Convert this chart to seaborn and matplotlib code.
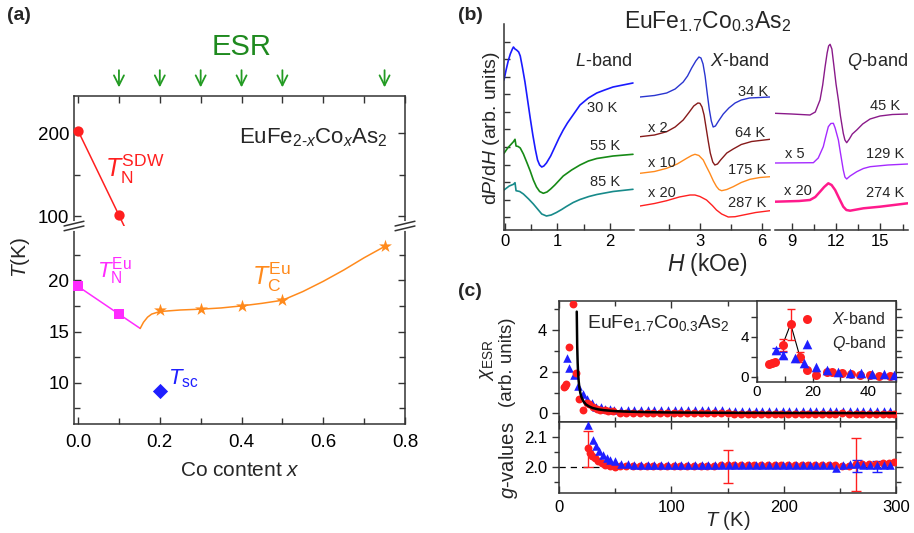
import matplotlib
matplotlib.use("Agg")
import matplotlib.pyplot as plt
from matplotlib.ticker import MultipleLocator, FixedLocator
import seaborn as sns

# ---------------- (a) phase diagram of EuFe2-xCoxAs2 ----------------
x_sdw = [0.0, 0.1]
t_sdw = [203, 101]
x_sdw_line = [0.0, 0.1, 0.122]
t_sdw_line = [203, 101, 78.5]

x_neu = [0.0, 0.1]
t_neu = [19.4, 16.7]
x_neu_line = [0.0, 0.1, 0.152]
t_neu_line = [19.4, 16.7, 15.3]

x_ceu = [0.2, 0.3, 0.4, 0.5, 0.75]
t_ceu = [17.07, 17.15, 17.53, 18.05, 23.3]
x_ceu_line = [0.152, 0.16, 0.17, 0.18, 0.2, 0.25, 0.3, 0.35, 0.4, 0.45,
              0.5, 0.55, 0.6, 0.65, 0.7, 0.75]
t_ceu_line = [15.3, 15.9, 16.4, 16.7, 16.95, 17.1, 17.18, 17.3, 17.5, 17.75,
              18.05, 18.9, 19.9, 21.0, 22.2, 23.3]

x_sc = [0.2]
t_sc = [9.2]

x_esr = [0.1, 0.2, 0.3, 0.4, 0.5, 0.75]

# ---------------- (b) ESR spectra, dP/dH (arb. units) ----------------
l30_h = [-0.02, 0.02, 0.06, 0.10, 0.14, 0.16, 0.19, 0.22, 0.26, 0.29, 0.33,
         0.38, 0.43, 0.48, 0.53, 0.58, 0.62, 0.66, 0.70, 0.74, 0.79, 0.87,
         0.95, 1.03, 1.11, 1.19, 1.27, 1.35, 1.43, 1.59, 1.75, 1.90, 2.06,
         2.25, 2.44]
l30_y = [15.0, 16.0, 16.9, 17.6, 18.1, 18.3, 18.1, 18.0, 17.8, 17.4, 16.3,
         14.8, 13.0, 11.2, 9.5, 8.0, 7.0, 6.5, 6.3, 6.4, 6.7, 7.4,
         8.3, 9.2, 10.0, 10.7, 11.3, 11.9, 12.5, 13.2, 13.7, 14.0, 14.3,
         14.5, 14.7]
l55_h = [-0.02, 0.05, 0.12, 0.16, 0.19, 0.21, 0.25, 0.29, 0.35, 0.42, 0.48,
         0.54, 0.60, 0.66, 0.73, 0.80, 0.87, 0.95, 1.11, 1.27, 1.43, 1.59,
         1.75, 2.06, 2.44]
l55_y = [7.67, 8.2, 8.6, 8.83, 9.07, 8.4, 8.35, 8.2, 7.6, 6.7, 5.9,
         5.0, 4.3, 3.85, 3.67, 3.8, 4.1, 4.5, 5.4, 6.0, 6.5, 6.9,
         7.15, 7.4, 7.57]
l85_h = [-0.02, 0.08, 0.16, 0.19, 0.21, 0.28, 0.35, 0.45, 0.54, 0.62, 0.70,
         0.79, 0.88, 0.98, 1.08, 1.17, 1.30, 1.43, 1.60, 1.75, 2.06, 2.44]
l85_y = [4.0, 4.4, 4.57, 4.73, 3.93, 3.85, 3.6, 3.1, 2.6, 2.1, 1.6,
         1.4, 1.5, 1.75, 2.05, 2.35, 2.75, 3.05, 3.35, 3.55, 3.85, 4.07]

x34_h = [0.10, 0.8, 1.39, 1.8, 2.19, 2.4, 2.6, 2.8, 2.95, 3.05, 3.15, 3.25,
         3.35, 3.45, 3.55, 3.64, 3.75, 3.9, 4.13, 4.4, 4.7, 5.0, 5.4, 6.39]
x34_y = [13.3, 13.45, 13.7, 14.1, 14.8, 15.4, 16.2, 16.9, 17.3, 17.2, 16.6,
         15.4, 13.7, 12.1, 10.9, 10.3, 10.4, 10.9, 11.6, 12.2, 12.7, 13.0,
         13.2, 13.3]
x64_h = [0.10, 0.8, 1.39, 1.8, 2.19, 2.45, 2.7, 2.9, 3.0, 3.1, 3.2, 3.3,
         3.4, 3.5, 3.62, 3.72, 3.85, 4.0, 4.3, 4.61, 5.0, 5.5, 6.39]
x64_y = [9.33, 9.5, 9.83, 10.3, 11.0, 11.7, 12.4, 12.7, 12.67, 12.3, 11.5,
         10.2, 8.9, 7.7, 6.8, 6.5, 6.6, 7.0, 7.7, 8.1, 8.55, 8.85, 9.07]
x175_h = [0.10, 0.8, 1.39, 1.9, 2.36, 2.6, 2.76, 2.95, 3.16, 3.3, 3.48, 3.65,
          3.80, 3.92, 4.05, 4.3, 4.61, 5.0, 5.42, 5.9, 6.39]
x175_y = [5.67, 5.85, 6.17, 6.6, 7.17, 7.45, 7.57, 7.45, 7.0, 6.4, 5.67, 4.9,
          4.35, 4.05, 3.93, 4.05, 4.33, 4.75, 5.07, 5.25, 5.33]
x287_h = [0.10, 0.8, 1.39, 2.0, 2.52, 2.76, 3.0, 3.32, 3.6, 3.80, 4.05, 4.37,
          4.7, 5.10, 5.7, 6.39]
x287_y = [2.4, 2.65, 2.93, 3.3, 3.5, 3.5, 3.35, 3.0, 2.45, 2.0, 1.6, 1.3,
          1.33, 1.5, 1.75, 1.93]

q45_h = [7.88, 9.0, 10.24, 10.6, 10.92, 11.1, 11.26, 11.4, 11.5, 11.6, 11.72,
         11.85, 12.0, 12.16, 12.3, 12.49, 12.6, 12.72, 12.9, 13.1, 13.4, 13.8,
         14.3, 14.97, 15.8, 16.84]
q45_y = [11.67, 11.6, 11.5, 11.8, 13.0, 14.5, 16.3, 17.7, 18.4, 18.57, 18.1,
         16.5, 14.6, 13.0, 11.4, 9.67, 9.0, 8.73, 9.1, 9.6, 10.0, 10.6,
         11.1, 11.4, 11.55, 11.6]
q129_h = [7.88, 10.47, 10.8, 11.14, 11.3, 11.48, 11.65, 11.82, 11.94, 12.05,
          12.16, 12.3, 12.49, 12.6, 12.72, 12.95, 13.4, 13.85, 14.3, 15.5, 16.84]
q129_y = [6.7, 6.73, 7.2, 8.33, 9.3, 10.33, 10.65, 10.67, 10.2, 9.6,
          9.0, 7.7, 6.0, 5.3, 5.1, 5.4, 5.83, 6.15, 6.33, 6.5, 6.6]
q274_h = [7.88, 9.5, 10.24, 10.6, 10.92, 11.2, 11.48, 11.7, 11.94, 12.2, 12.49,
          12.7, 12.95, 13.4, 13.85, 14.97, 16.84]
q274_y = [2.83, 2.9, 3.0, 3.3, 3.83, 4.3, 4.67, 4.5, 4.0, 3.2, 2.33,
          2.0, 1.93, 2.05, 2.17, 2.33, 2.67]

# ---------------- (c) ESR intensity and g-values ----------------
xb_t = [4.2, 5.4, 6.3, 9.2, 12.1, 15.5, 18.1, 21.1, 25.0, 27.0, 30.4, 33.7,
        36.9, 40.8, 44.0, 48.0,
        54, 60, 66, 72, 78, 84, 90, 96, 102, 108, 114, 120, 126, 132, 138,
        144, 150, 156, 162, 168, 174, 180, 186, 192, 198, 204, 210, 216, 222,
        228, 234, 240, 246, 252, 258, 264, 270, 276, 282, 288, 294, 298]
xb_chi = [1.27, 1.33, 1.43, 3.17, 5.27, 1.93, 0.67, 0.17, 0.50, 0.43, 0.33,
          0.23, 0.17, 0.17, 0.10, 0.10,
          0.04, 0.03, 0.03, 0.02, 0.02, 0.02, 0.01, 0.01, 0.01, 0.01, 0.0,
          0.0, 0.0, 0.0, 0.0, 0.0, 0.0, -0.01, -0.01, -0.01, -0.01, -0.01,
          -0.01, -0.02, -0.02, -0.02, -0.02, -0.02, -0.02, -0.02, -0.02,
          -0.03, -0.02, 0.0, -0.02, -0.02, -0.02, -0.02, -0.02, -0.02,
          -0.02, -0.01]
qb_t = [6.8, 9.2, 13.5, 17.0, 21.1, 25.0, 29.2, 33.3, 37.3, 41.3, 45.6, 49.4,
        55, 61, 67, 73, 79, 85, 91, 97, 103, 109, 115, 121, 127, 133, 139,
        145, 151, 157, 163, 169, 175, 181, 187, 193, 199, 205, 211, 217, 223,
        229, 235, 241, 247, 253, 259, 265, 271, 277, 283, 289, 295]
qb_chi = [2.67, 2.17, 1.83, 1.33, 0.93, 0.67, 0.50, 0.33, 0.33, 0.23, 0.23,
          0.17,
          0.18, 0.18, 0.17, 0.17, 0.17, 0.16, 0.16, 0.16, 0.16, 0.15, 0.15,
          0.15, 0.15, 0.15, 0.15, 0.15, 0.14, 0.14, 0.14, 0.14, 0.14, 0.14,
          0.14, 0.14, 0.14, 0.14, 0.14, 0.13, 0.13, 0.13, 0.13, 0.13, 0.13,
          0.13, 0.13, 0.13, 0.13, 0.12, 0.12, 0.12, 0.12]

# Curie-Weiss fit curve as drawn
fit_t = [15.8, 16.2, 16.6, 17.0, 17.5, 18, 19, 20, 22, 24, 27, 30, 35, 40,
         50, 60, 80, 100, 150, 200, 250, 300]
fit_chi = [4.88, 3.25, 2.44, 1.95, 1.56, 1.30, 0.98, 0.78, 0.56, 0.43, 0.33,
           0.26, 0.195, 0.156, 0.111, 0.087, 0.060, 0.046, 0.029, 0.021,
           0.017, 0.014]

xb_err_t = [9.2, 12.1, 15.5]
xb_err_chi = [3.17, 5.27, 1.93]
xb_err = [0.6, 1.55, 0.5]
qb_err_t = [6.8, 9.2]
qb_err_chi = [2.67, 2.17]
qb_err = [0.25, 0.3]

xb_g_t = [25.6, 27.7, 29.8, 32.0, 35.0, 38.0, 41.0, 45.5, 50.0,
          54, 60, 66, 72, 78, 84, 90, 96, 102, 108, 114, 120, 126, 132, 138,
          144, 150, 156, 162, 168, 174, 180, 186, 192, 198, 204, 210, 216, 222,
          228, 234, 240, 246, 252, 258, 264, 270, 276, 282, 288, 294, 298]
xb_g = [2.064, 2.047, 2.036, 2.029, 2.020, 2.014, 2.009, 2.005, 2.002,
        2.003, 2.003, 2.003, 2.004, 2.004, 2.004, 2.004, 2.004, 2.005, 2.005,
        2.005, 2.005, 2.005, 2.005, 2.005, 2.006, 2.006, 2.006, 2.006, 2.007,
        2.007, 2.007, 2.007, 2.007, 2.008, 2.008, 2.008, 2.008, 2.008, 2.009,
        2.009, 2.009, 2.009, 2.003, 2.005, 2.010, 2.010, 2.011, 2.012, 2.013,
        2.015, 2.016]
qb_g_t = [25.6, 30.0, 33.0, 36.0, 39.6, 42.6, 45.5, 50.0,
          55, 61, 67, 73, 79, 85, 91, 97, 103, 109, 115, 121, 127, 133, 139,
          145, 151, 157, 163, 169, 175, 181, 187, 193, 199, 205, 211, 217, 223,
          229, 235, 241, 247, 253, 259, 265, 271, 277, 283, 289, 295]
qb_g = [2.141, 2.091, 2.069, 2.053, 2.040, 2.031, 2.025, 2.020,
        2.012, 2.010, 2.009, 2.009, 2.008, 2.008, 2.008, 2.008, 2.008, 2.008,
        2.007, 2.007, 2.007, 2.007, 2.007, 2.007, 2.007, 2.007, 2.007, 2.007,
        2.007, 2.007, 2.007, 2.007, 2.007, 2.008, 2.008, 2.008, 2.008, 2.008,
        2.008, 2.008, 1.996, 2.008, 2.010, 2.012, 2.008, 2.006, 2.008, 2.006,
        2.008]
xb_gerr_t = [25.6, 150, 264]
xb_gerr_g = [2.06, 2.003, 2.01]
xb_gerr = [0.06, 0.055, 0.087]
qb_gerr_t = [265, 283]
qb_gerr_g = [2.005, 2.002]
qb_gerr = [0.02, 0.018]

RED = "#ff1f1f"
BLUE = "#1f1fff"
MAGENTA = "#ff2bff"
ORANGE = "#ff8a1c"
GREEN = "#239b23"
SPINE = "#333333"

sns.set_theme(style="ticks")
plt.rcParams["font.family"] = ["Liberation Sans", "DejaVu Sans"]
plt.rcParams["mathtext.fontset"] = "custom"
plt.rcParams["mathtext.rm"] = "Liberation Sans"
plt.rcParams["mathtext.it"] = "Liberation Sans:italic"
plt.rcParams["mathtext.bf"] = "Liberation Sans:bold"
plt.rcParams["axes.edgecolor"] = SPINE
plt.rcParams["axes.linewidth"] = 1.1
plt.rcParams["xtick.color"] = SPINE
plt.rcParams["ytick.color"] = SPINE
plt.rcParams["xtick.labelcolor"] = "black"
plt.rcParams["ytick.labelcolor"] = "black"

W, H = 914, 533
fig = plt.figure(figsize=(W / 100, H / 100), dpi=100)


def box(left, top, right, bottom):
    return [left / W, 1 - bottom / H, (right - left) / W, (bottom - top) / H]


def ftext(px, py, s, **kw):
    fig.text(px / W, 1 - py / H, s, **kw)


def line(ax, x, y, **kw):
    sns.lineplot(x=x, y=y, ax=ax, estimator=None, sort=False, **kw)


def dots(ax, x, y, **kw):
    kw.setdefault("linewidth", 0)
    sns.scatterplot(x=x, y=y, ax=ax, **kw)


# ======================= panel (a) =======================
ax_hi = fig.add_axes(box(74, 96, 405, 226))
ax_lo = fig.add_axes(box(74, 226, 405, 424))

line(ax_hi, x_sdw_line, t_sdw_line, color=RED, lw=1.1, clip_on=False)
dots(ax_hi, x_sdw, t_sdw, color=RED, s=55, marker="o", zorder=5, clip_on=False)
line(ax_lo, x_neu_line, t_neu_line, color=MAGENTA, lw=1.1)
dots(ax_lo, x_neu, t_neu, color=MAGENTA, s=48, marker="s", zorder=5, clip_on=False)
line(ax_lo, x_ceu_line, t_ceu_line, color=ORANGE, lw=1.1)
dots(ax_lo, x_ceu, t_ceu, color=ORANGE, s=95, marker="*", zorder=5)
dots(ax_lo, x_sc, t_sc, color=BLUE, s=60, marker="D", zorder=5)

for ax in (ax_hi, ax_lo):
    ax.set_xlim(-0.01, 0.8)
    ax.xaxis.set_major_locator(MultipleLocator(0.2))
    ax.xaxis.set_minor_locator(MultipleLocator(0.1))
    ax.tick_params(which="both", direction="in", top=True, right=True,
                   labelsize=13.5, length=5, width=1)
    ax.tick_params(which="minor", length=4)
    ax.set_xlabel("")
    ax.set_ylabel("")

ax_hi.set_ylim(88, 245)
ax_hi.yaxis.set_major_locator(FixedLocator([100, 200]))
ax_hi.yaxis.set_minor_locator(FixedLocator([150]))
ax_hi.tick_params(axis="x", which="both", labelbottom=False, bottom=False)
ax_hi.spines["bottom"].set_visible(False)
ax_hi.xaxis.set_major_locator(MultipleLocator(0.1))

ax_lo.set_ylim(5.97, 25.3)
ax_lo.yaxis.set_major_locator(FixedLocator([10, 15, 20]))
ax_lo.yaxis.set_minor_locator(FixedLocator([7.5, 12.5, 17.5, 22.5]))
ax_lo.tick_params(axis="x", which="both", top=False)
ax_lo.spines["top"].set_visible(False)
ax_lo.xaxis.set_major_formatter(plt.FormatStrFormatter("%.1f"))
ax_lo.tick_params(axis="x", pad=7)

# axis break marks
for xb in (0.0, 1.0):
    ax_lo.plot([xb, xb], [0.985, 1.015], transform=ax_lo.transAxes,
               color="white", lw=3, clip_on=False, zorder=4)
    for dy in (-0.012, 0.012):
        ax_lo.plot([xb - 0.03, xb + 0.03], [1.0 + dy - 0.012, 1.0 + dy + 0.012],
                   transform=ax_lo.transAxes, color=SPINE, lw=1.1,
                   clip_on=False, zorder=5)

for xa in x_esr:
    ax_hi.annotate("", xy=(xa, 1.045), xytext=(xa, 1.22),
                   xycoords=("data", "axes fraction"),
                   textcoords=("data", "axes fraction"),
                   arrowprops=dict(arrowstyle="->", color=GREEN, lw=1.3,
                                   mutation_scale=18), annotation_clip=False)
ax_hi.text(0.4, 1.377, "ESR", transform=ax_hi.get_xaxis_transform(),
           color="#1f8a1f", fontsize=21, ha="center", va="center")

ax_hi.text(0.758, 195, r"EuFe$_{2\text{-}x}$Co$_x$As$_2$", fontsize=16,
           ha="right", va="center")
ax_hi.text(0.066, 157, r"$T_{\rm N}^{\rm SDW}$", color=RED, fontsize=18,
           ha="left", va="center")
ax_lo.text(0.046, 20.9, r"$T_{\rm N}^{\rm Eu}$", color=MAGENTA, fontsize=16,
           ha="left", va="center")
ax_lo.text(0.426, 20.3, r"$T_{\rm C}^{\rm Eu}$", color=ORANGE, fontsize=18,
           ha="left", va="center")
ax_lo.text(0.22, 10.4, r"$T_{\rm sc}$", color=BLUE, fontsize=16,
           ha="left", va="center")

ftext(20, 257, r"$T$(K)", fontsize=15, rotation=90, ha="center", va="center")
ftext(240, 470, r"Co content $x$", fontsize=15, ha="center", va="center")
ftext(7, 15, "(a)", fontsize=14, fontweight="bold", ha="left", va="center")

# ======================= panel (b) =======================
ax_L = fig.add_axes(box(504, 24, 634, 230))
ax_X = fig.add_axes(box(640, 24, 770, 230))
ax_Q = fig.add_axes(box(775, 24, 908, 230))

line(ax_L, l30_h, l30_y, color="#1a1aff", lw=1.2)
line(ax_L, l55_h, l55_y, color="#168a16", lw=1.2)
line(ax_L, l85_h, l85_y, color="#178a8a", lw=1.2)
line(ax_X, x34_h, x34_y, color="#2a35d0", lw=1.0)
line(ax_X, x64_h, x64_y, color="#861a1a", lw=1.0)
line(ax_X, x175_h, x175_y, color="#ff8a1c", lw=1.0)
line(ax_X, x287_h, x287_y, color="#ff2020", lw=1.0)
line(ax_Q, q45_h, q45_y, color="#8a1a8a", lw=1.0)
line(ax_Q, q129_h, q129_y, color="#a52aff", lw=1.0)
line(ax_Q, q274_h, q274_y, color="#ff1a8c", lw=1.8)

for ax in (ax_L, ax_X, ax_Q):
    ax.set_ylim(0, 20.6)
    ax.set_xlabel("")
    ax.set_ylabel("")
    for sp in ("top", "right", "left"):
        ax.spines[sp].set_visible(False)
    ax.tick_params(which="both", direction="in", labelsize=12, length=5,
                   width=1, left=False, labelleft=False, pad=3)
    ax.tick_params(which="minor", length=4)

ax_L.spines["left"].set_visible(True)
ax_L.set_yticks([1.3, 3.05, 4.8, 6.55, 8.3, 10.05, 11.8, 13.55, 15.3, 17.05, 18.8])
ax_L.tick_params(axis="y", left=True, labelleft=False, direction="in", length=4)
ax_L.set_xlim(-0.02, 2.46)
ax_L.xaxis.set_major_locator(MultipleLocator(1))
ax_L.xaxis.set_minor_locator(MultipleLocator(0.5))
ax_X.set_xlim(0.1, 6.39)
ax_X.set_xticks([3, 6])
ax_X.xaxis.set_minor_locator(MultipleLocator(1.5))
ax_Q.set_xlim(7.88, 16.86)
ax_Q.set_xticks([9, 12, 15])
ax_Q.xaxis.set_minor_locator(MultipleLocator(1.5))

lab = dict(fontsize=10.5, ha="center", va="center")
ax_L.text(1.87, 16.9, r"$L$-band", fontsize=13, ha="center", va="center")
ax_L.text(1.85, 12.2, "30 K", **lab)
ax_L.text(1.90, 8.4, "55 K", **lab)
ax_L.text(1.90, 4.8, "85 K", **lab)
ax_X.text(4.94, 16.9, r"$X$-band", fontsize=13, ha="center", va="center")
ax_X.text(5.56, 13.8, "34 K", **lab)
ax_X.text(5.42, 9.7, "64 K", **lab)
ax_X.text(5.27, 6.0, "175 K", **lab)
ax_X.text(5.27, 2.7, "287 K", **lab)
ax_X.text(0.97, 10.2, "x 2", **lab)
ax_X.text(1.16, 6.7, "x 10", **lab)
ax_X.text(1.16, 3.7, "x 20", **lab)
ax_Q.text(14.77, 16.9, r"$Q$-band", fontsize=13, ha="center", va="center")
ax_Q.text(15.3, 12.4, "45 K", **lab)
ax_Q.text(15.3, 7.6, "129 K", **lab)
ax_Q.text(15.3, 3.7, "274 K", **lab)
ax_Q.text(9.23, 7.6, "x 5", **lab)
ax_Q.text(9.43, 3.9, "x 20", **lab)

ftext(708, 22, r"EuFe$_{1.7}$Co$_{0.3}$As$_2$", fontsize=16.5, ha="center",
      va="center")
ftext(707, 264, r"$H$ (kOe)", fontsize=16.5, ha="center", va="center")
ftext(491, 128, r"d$P$/d$H$ (arb. units)", fontsize=14, rotation=90,
      ha="center", va="center")
ftext(458, 15, "(b)", fontsize=14, fontweight="bold", ha="left", va="center")

# ======================= panel (c) =======================
ax_chi = fig.add_axes(box(559, 301, 896, 422))
ax_g = fig.add_axes(box(559, 422, 896, 493))
ax_in = fig.add_axes(box(757, 301, 896, 382))

line(ax_chi, fit_t, fit_chi, color="black", lw=1.8, zorder=4)
dots(ax_chi, xb_t, xb_chi, color=RED, s=32, marker="o", zorder=3)
dots(ax_chi, qb_t, qb_chi, color=BLUE, s=38, marker="^", zorder=2)
ax_chi.set_xlim(0, 300)
ax_chi.set_ylim(-0.41, 5.39)
ax_chi.yaxis.set_major_locator(MultipleLocator(2))
ax_chi.yaxis.set_minor_locator(MultipleLocator(1))
ax_chi.xaxis.set_major_locator(MultipleLocator(100))
ax_chi.xaxis.set_minor_locator(MultipleLocator(50))
ax_chi.tick_params(axis="x", labelbottom=False)
ax_chi.text(0.083, 0.82, r"EuFe$_{1.7}$Co$_{0.3}$As$_2$", fontsize=14,
            transform=ax_chi.transAxes, ha="left", va="center")

ax_g.axhline(2.0, color="black", lw=0.9, ls=(0, (5, 4)), zorder=1)
ax_g.errorbar(xb_gerr_t, xb_gerr_g, yerr=xb_gerr, fmt="none", ecolor=RED,
              elinewidth=1, capsize=3.5, zorder=2)
ax_g.errorbar(qb_gerr_t, qb_gerr_g, yerr=qb_gerr, fmt="none", ecolor=BLUE,
              elinewidth=1, capsize=3.5, zorder=2)
dots(ax_g, xb_g_t, xb_g, color=RED, s=32, marker="o", zorder=3)
dots(ax_g, qb_g_t, qb_g, color=BLUE, s=38, marker="^", zorder=3, clip_on=False)
ax_g.set_xlim(0, 300)
ax_g.set_ylim(1.915, 2.1495)
ax_g.set_yticks([2.0, 2.1])
ax_g.yaxis.set_minor_locator(MultipleLocator(0.05))
ax_g.yaxis.set_major_formatter(plt.FormatStrFormatter("%.1f"))
ax_g.xaxis.set_major_locator(MultipleLocator(100))
ax_g.xaxis.set_minor_locator(MultipleLocator(50))
ax_g.set_xlabel("")

for ax in (ax_chi, ax_g):
    ax.set_ylabel("")
    ax.tick_params(which="both", direction="in", top=True, right=True,
                   labelsize=12, length=5, width=1)
    ax.tick_params(which="minor", length=3.5)
    ax.tick_params(axis="y", which="both", direction="out")
ax_g.tick_params(axis="x", pad=5)

# inset
ax_in.plot(xb_err_t, xb_err_chi, color="black", lw=0.8, zorder=2)
ax_in.errorbar(xb_err_t, xb_err_chi, yerr=xb_err, fmt="none", ecolor=RED,
               elinewidth=1, capsize=3, zorder=2)
ax_in.errorbar(qb_err_t, qb_err_chi, yerr=qb_err, fmt="none", ecolor=BLUE,
               elinewidth=1, capsize=3, zorder=2)
dots(ax_in, xb_t, xb_chi, color=RED, s=42, marker="o", zorder=3,
     label=r"$X$-band")
dots(ax_in, qb_t, qb_chi, color=BLUE, s=48, marker="^", zorder=3,
     label=r"$Q$-band")
ax_in.set_xlim(0, 50)
ax_in.set_ylim(-0.53, 7.57)
ax_in.xaxis.set_major_locator(MultipleLocator(20))
ax_in.xaxis.set_minor_locator(MultipleLocator(10))
ax_in.yaxis.set_major_locator(MultipleLocator(4))
ax_in.yaxis.set_minor_locator(MultipleLocator(2))
ax_in.set_xlabel("")
ax_in.set_ylabel("")
ax_in.tick_params(which="both", direction="in", right=True, labelsize=11,
                  length=4, width=1, pad=2)
ax_in.tick_params(axis="y", which="both", direction="out")
ax_in.legend(loc="upper right", frameon=False, fontsize=11.5,
             handletextpad=0.6, borderaxespad=0.2, labelspacing=0.45,
             markerscale=1.0)

ftext(487, 360, r"$\chi_{\rm ESR}$", fontsize=14, rotation=90, ha="center",
      va="center")
ftext(507, 362, "(arb. units)", fontsize=13.5, rotation=90, ha="center",
      va="center")
ftext(508, 460, r"$g$-values", fontsize=14.5, rotation=90, ha="center",
      va="center")
ftext(728, 520, r"$T$ (K)", fontsize=14.5, ha="center", va="center")
ftext(458, 291, "(c)", fontsize=14, fontweight="bold", ha="left", va="center")

fig.savefig("out.png", dpi=100)
